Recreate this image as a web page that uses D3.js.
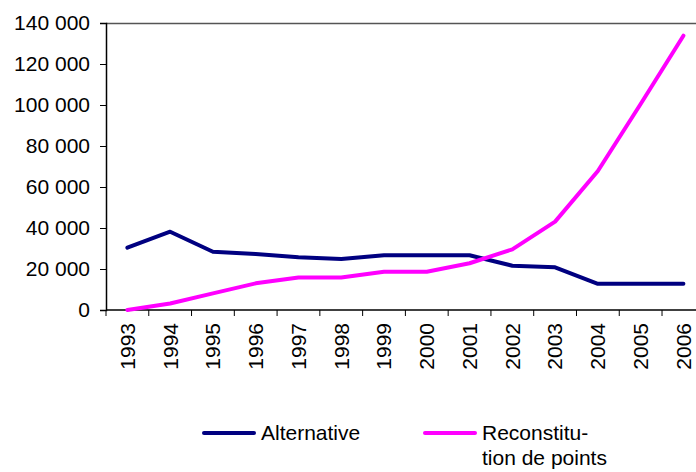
<!DOCTYPE html>
<html>
<head>
<meta charset="utf-8">
<script src="https://cdn.jsdelivr.net/npm/d3@7"></script>
<style>
  html, body { margin: 0; padding: 0; background: #fff; }
  svg { display: block; font-family: "Liberation Sans", Arial, sans-serif; }
</style>
</head>
<body>
<svg id="chart" width="696" height="472"></svg>
<script>
// Yearly counts, 1993–2006
const years = ["1993","1994","1995","1996","1997","1998","1999","2000","2001","2002","2003","2004","2005","2006"];
const alternative = [30400, 38200, 28400, 27300, 25700, 24900, 26700, 26700, 26700, 21600, 20800, 12800, 12800, 12800];
const reconstitution = [0, 3200, 8100, 13000, 15900, 15900, 18700, 18700, 22800, 29600, 43100, 67800, 100500, 133800];
const yTicks = [0, 20000, 40000, 60000, 80000, 100000, 120000, 140000];
const seriesNames = ["Alternative", "Reconstitu-\ntion de points"];
const seriesColors = ["#000080", "#FF00FF"];

const svg = d3.select("#chart");
const plot = { left: 106, top: 23, bottom: 310, right: 704.8 };
const fontSize = 21;

const x = d3.scaleBand().domain(years).range([plot.left, plot.right]).padding(0);
const y = d3.scaleLinear().domain([0, 140000]).range([plot.bottom, plot.top]);

const fmt = v => d3.format(",")(v).replace(/,/g, " ");

// plot frame top / right edge
svg.append("line").attr("x1", plot.left).attr("x2", plot.right).attr("y1", plot.top + 0.5).attr("y2", plot.top + 0.5)
  .attr("stroke", "#555").attr("stroke-width", 1.5);
svg.append("line").attr("x1", plot.right).attr("x2", plot.right).attr("y1", plot.top).attr("y2", plot.bottom)
  .attr("stroke", "#555").attr("stroke-width", 1.5);

// y axis
const yAxis = svg.append("g").attr("transform", `translate(${plot.left},0)`)
  .call(d3.axisLeft(y).tickValues(yTicks).tickFormat(fmt).tickSize(6).tickPadding(10));
yAxis.select(".domain").attr("stroke", "#000").attr("stroke-width", 1.5);
yAxis.selectAll(".tick line").attr("stroke", "#000").attr("stroke-width", 1);
yAxis.selectAll("text").attr("font-size", fontSize).attr("fill", "#000")
  .attr("font-family", "'Liberation Sans', Arial, sans-serif");

// x axis: ticks at category boundaries
const xAxisG = svg.append("g").attr("transform", `translate(0,${plot.bottom})`);
xAxisG.append("line").attr("x1", plot.left).attr("x2", plot.right).attr("stroke", "#000").attr("stroke-width", 1.5);
const bounds = years.map(d => x(d)).concat([x(years[years.length - 1]) + x.bandwidth()]);
xAxisG.selectAll("line.tk").data(bounds).join("line").attr("class", "tk")
  .attr("x1", d => d).attr("x2", d => d).attr("y1", 0).attr("y2", 6)
  .attr("stroke", "#000").attr("stroke-width", 1);
xAxisG.selectAll("text").data(years).join("text")
  .attr("transform", d => `translate(${x(d) + x.bandwidth() / 2},13) rotate(-90)`)
  .attr("text-anchor", "end").attr("dy", "0.35em")
  .attr("font-size", fontSize).attr("fill", "#000")
  .text(d => d);

// series lines
const line = d3.line().x((d, i) => x(years[i]) + x.bandwidth() / 2).y(d => y(d));
[alternative, reconstitution].forEach((s, k) => {
  svg.append("path").datum(s).attr("d", line)
    .attr("fill", "none").attr("stroke", seriesColors[k]).attr("stroke-width", 4)
    .attr("stroke-linejoin", "round").attr("stroke-linecap", "round");
});

// legend
const legendX = [204, 425];
seriesNames.forEach((name, k) => {
  const g = svg.append("g").attr("transform", `translate(${legendX[k]},433)`);
  g.append("line").attr("x1", 0).attr("x2", 50).attr("y1", 0).attr("y2", 0)
    .attr("stroke", seriesColors[k]).attr("stroke-width", 4).attr("stroke-linecap", "round");
  const t = g.append("text").attr("x", 57).attr("y", 7).attr("font-size", fontSize).attr("fill", "#000");
  name.split("\n").forEach((ln, j) => {
    t.append("tspan").attr("x", 57).attr("dy", j === 0 ? 0 : 25).text(ln);
  });
});
</script>
</body>
</html>
